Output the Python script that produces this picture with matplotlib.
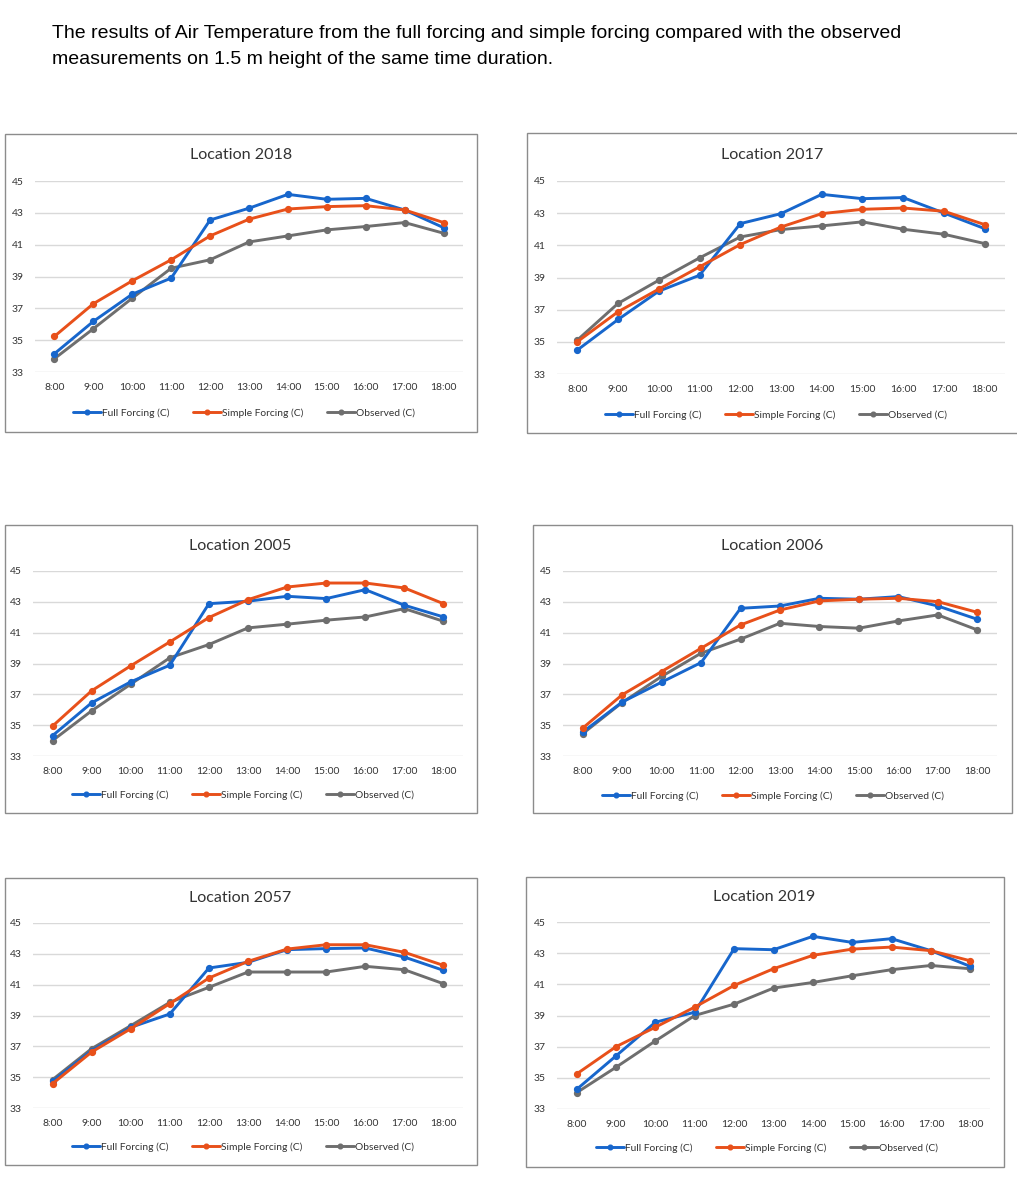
import matplotlib
matplotlib.use("Agg")
import matplotlib.pyplot as plt
from matplotlib.patches import Rectangle

W, H = 1017, 1200

hours = ["8:00", "9:00", "10:00", "11:00", "12:00", "13:00", "14:00", "15:00", "16:00", "17:00", "18:00"]
y_ticks = [33, 35, 37, 39, 41, 43, 45]
series_names = ["Full Forcing (C)", "Simple Forcing (C)", "Observed (C)"]
locations = ["Location 2018", "Location 2017", "Location 2005", "Location 2006", "Location 2057", "Location 2019"]

full_2018 = [34.15, 36.18, 37.89, 38.9, 42.55, 43.29, 44.16, 43.85, 43.91, 43.18, 42.07]
simple_2018 = [35.24, 37.29, 38.73, 40.05, 41.55, 42.6, 43.24, 43.39, 43.45, 43.18, 42.39]
obs_2018 = [33.84, 35.72, 37.64, 39.52, 40.05, 41.17, 41.55, 41.93, 42.14, 42.39, 41.72]

full_2017 = [34.49, 36.39, 38.15, 39.14, 42.35, 42.97, 44.17, 43.9, 43.97, 43.01, 42.04]
simple_2017 = [35.01, 36.87, 38.28, 39.66, 41.05, 42.14, 42.97, 43.24, 43.32, 43.12, 42.29]
obs_2017 = [35.11, 37.39, 38.83, 40.22, 41.52, 41.98, 42.21, 42.46, 42.0, 41.69, 41.11]

full_2005 = [34.32, 36.45, 37.81, 38.89, 42.88, 43.04, 43.36, 43.21, 43.79, 42.78, 42.02]
simple_2005 = [34.94, 37.23, 38.85, 40.4, 41.98, 43.14, 43.96, 44.22, 44.22, 43.9, 42.88]
obs_2005 = [34.0, 35.93, 37.66, 39.37, 40.23, 41.31, 41.55, 41.81, 42.02, 42.56, 41.74]

full_2006 = [34.55, 36.5, 37.79, 39.06, 42.58, 42.73, 43.23, 43.17, 43.34, 42.73, 41.87]
simple_2006 = [34.81, 36.97, 38.48, 39.99, 41.5, 42.47, 43.06, 43.17, 43.23, 43.01, 42.32]
obs_2006 = [34.45, 36.47, 38.16, 39.67, 40.58, 41.61, 41.4, 41.29, 41.76, 42.15, 41.18]

full_2057 = [34.73, 36.72, 38.23, 39.1, 42.08, 42.45, 43.27, 43.34, 43.38, 42.79, 41.93]
simple_2057 = [34.58, 36.63, 38.14, 39.77, 41.43, 42.51, 43.31, 43.59, 43.59, 43.1, 42.25]
obs_2057 = [34.84, 36.85, 38.34, 39.85, 40.83, 41.82, 41.82, 41.82, 42.19, 41.97, 41.06]

full_2019 = [34.26, 36.41, 38.57, 39.21, 43.29, 43.22, 44.08, 43.69, 43.93, 43.16, 42.15]
simple_2019 = [35.25, 37.0, 38.25, 39.54, 40.93, 42.0, 42.86, 43.26, 43.39, 43.16, 42.51]
obs_2019 = [34.05, 35.68, 37.37, 39.0, 39.73, 40.76, 41.12, 41.55, 41.94, 42.21, 42.0]

panel_data = [
    (full_2018, simple_2018, obs_2018),
    (full_2017, simple_2017, obs_2017),
    (full_2005, simple_2005, obs_2005),
    (full_2006, simple_2006, obs_2006),
    (full_2057, simple_2057, obs_2057),
    (full_2019, simple_2019, obs_2019),
]

colors = ["#1766CC", "#E8501A", "#6E6E6E"]
zorders = [3, 4, 2]

# layout in pixels: box (l, t, r, b), plot area (l, t, r, b), title y, title x, legend y, legend x
layouts = [
    dict(box=(5, 134, 477, 432), plot=(35, 181, 463, 372), ty=155, tx=241, ly=413, lx=244),
    dict(box=(527, 133, 1030, 433), plot=(557, 181, 1005, 374), ty=155, tx=772, ly=415, lx=776),
    dict(box=(5, 525, 477, 813), plot=(33, 571, 463, 756), ty=546, tx=240, ly=795, lx=243),
    dict(box=(533, 525, 1012, 813), plot=(563, 571, 997, 756), ty=546, tx=772, ly=796, lx=773),
    dict(box=(5, 878, 477, 1165), plot=(33, 923, 463, 1108), ty=898, tx=240, ly=1147, lx=243),
    dict(box=(526, 877, 1004, 1167), plot=(557, 922, 990, 1109), ty=897, tx=764, ly=1148, lx=767),
]

chart_font = ["Lato", "DejaVu Sans"]

fig = plt.figure(figsize=(W / 100, H / 100), dpi=100)
fig.patch.set_facecolor("white")

fig.text(52 / W, 1 - 33 / H, "The results of Air Temperature from the full forcing and simple forcing compared with the observed",
         family=["Liberation Sans", "DejaVu Sans"], fontsize=14.0, va="center", ha="left", color="black")
fig.text(52 / W, 1 - 60 / H, "measurements on 1.5 m height of the same time duration.",
         family=["Liberation Sans", "DejaVu Sans"], fontsize=14.0, va="center", ha="left", color="black")

for name, data, lay in zip(locations, panel_data, layouts):
    bl, bt, br, bb = lay["box"]
    fig.patches.append(Rectangle((bl / W, 1 - bb / H), (br - bl) / W, (bb - bt) / H,
                                 transform=fig.transFigure, fill=False, edgecolor="#8C8C8C",
                                 linewidth=1.0, zorder=0))
    pl, pt, pr, pb = lay["plot"]
    ax = fig.add_axes([pl / W, 1 - pb / H, (pr - pl) / W, (pb - pt) / H])
    ax.set_facecolor("none")
    x = list(range(len(hours)))
    for vals, label, c, z in zip(data, series_names, colors, zorders):
        ax.plot(x, vals, color=c, linewidth=2.1, marker="o", markersize=4.2, label=label, zorder=z,
                solid_capstyle="round")
    ax.set_xlim(-0.5, len(hours) - 0.5)
    ax.set_ylim(33, 45)
    ax.set_yticks(y_ticks)
    ax.set_yticklabels([str(v) for v in y_ticks], family=chart_font, fontsize=7.5, color="#333333")
    ax.set_xticks(x)
    ax.set_xticklabels(hours, family=chart_font, fontsize=7.5, color="#333333")
    ax.tick_params(axis="both", length=0)
    ax.tick_params(axis="y", pad=8)
    ax.tick_params(axis="x", pad=8)
    for s in ax.spines.values():
        s.set_visible(False)
    ax.grid(axis="y", color="#D9D9D9", linewidth=1.0, zorder=0)
    ax.set_axisbelow(True)
    fig.text(lay["tx"] / W, 1 - lay["ty"] / H, name, family=chart_font, fontsize=11.6,
             ha="center", va="center", color="#333333")
    leg = ax.legend(loc="center", bbox_to_anchor=(lay["lx"] / W, 1 - lay["ly"] / H),
                    bbox_transform=fig.transFigure, ncol=3, frameon=False,
                    prop={"family": chart_font, "size": 7.4}, handlelength=2.7, handletextpad=0.1,
                    columnspacing=2.3, markerscale=0.8)
    for t in leg.get_texts():
        t.set_color("#333333")

fig.savefig("out.png", dpi=100, facecolor="white")
